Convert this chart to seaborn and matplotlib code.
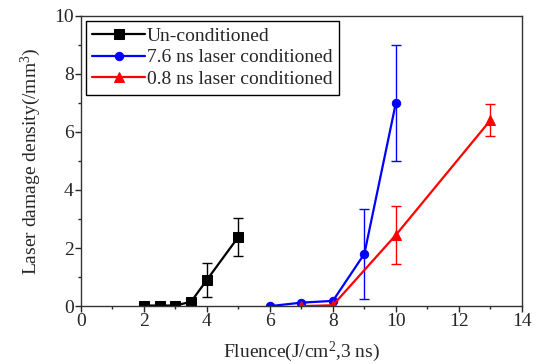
import seaborn as sns
import pandas as pd
import matplotlib.pyplot as plt
from matplotlib.ticker import MultipleLocator

# data
x_un = [2, 2.5, 3, 3.5, 4, 5]
y_un = [0.02, 0.02, 0.02, 0.15, 0.9, 2.38]
e_un = [0, 0, 0, 0, 0.58, 0.65]

x_76 = [6, 7, 8, 9, 10]
y_76 = [0.0, 0.12, 0.18, 1.8, 7.0]
e_76 = [0, 0, 0, 1.55, 2.0]

x_08 = [7, 8, 10, 13]
y_08 = [0.0, 0.03, 2.45, 6.4]
e_08 = [0, 0, 1.0, 0.55]

labels = ["Un-conditioned", "7.6 ns laser conditioned", "0.8 ns laser conditioned"]
colors = ["black", "#0000ff", "#ff0000"]
markers = ["s", "o", "^"]
msizes = [6.5, 6, 7.5]

sns.set_theme(style="ticks")
plt.rcParams["font.family"] = ["Liberation Serif", "DejaVu Serif"]
plt.rcParams["mathtext.default"] = "regular"

fig = plt.figure(figsize=(5.42, 3.64), dpi=100)
ax = fig.add_axes([0.149, 0.159, 0.814, 0.798])

series = [(x_un, y_un, e_un), (x_76, y_76, e_76), (x_08, y_08, e_08)]
for (xs, ys, es), lab, c, m, ms in zip(series, labels, colors, markers, msizes):
    df = pd.DataFrame({"x": xs, "y": ys})
    sns.lineplot(data=df, x="x", y="y", ax=ax, color=c, marker=m, markersize=ms,
                 markeredgecolor=c, linewidth=1.6, label=lab)
    errs = [(xx, yy, ee) for xx, yy, ee in zip(xs, ys, es) if ee > 0]
    if errs:
        ex, ey, ee = zip(*errs)
        ax.errorbar(ex, ey, yerr=ee, fmt="none", ecolor=c, elinewidth=1.0,
                    capsize=3.5, capthick=1.0)

ax.set_xlim(0, 14)
ax.set_ylim(0, 10)
ax.xaxis.set_major_locator(MultipleLocator(2))
ax.xaxis.set_minor_locator(MultipleLocator(1))
ax.yaxis.set_major_locator(MultipleLocator(2))
ax.yaxis.set_minor_locator(MultipleLocator(1))
ax.tick_params(which="major", direction="out", length=4, width=1, labelsize=14, pad=1)
ax.tick_params(which="minor", direction="out", length=2.5, width=1)
for sp in ax.spines.values():
    sp.set_visible(True)
    sp.set_linewidth(1.0)
    sp.set_color("#333333")

ax.set_xlabel("Fluence(J/cm$^2$,3 ns)", fontsize=14, labelpad=7)
ax.set_ylabel("Laser damage density(/mm$^3$)", fontsize=14, labelpad=8)

leg = ax.legend(loc="upper left", fontsize=14, frameon=True, fancybox=False,
                edgecolor="black", handlelength=2.7, handletextpad=0.1,
                borderaxespad=0.25, borderpad=0.35, labelspacing=0.2)
leg.get_frame().set_linewidth(1.0)
leg.get_frame().set_alpha(1)

fig.savefig("out.png", dpi=100)
